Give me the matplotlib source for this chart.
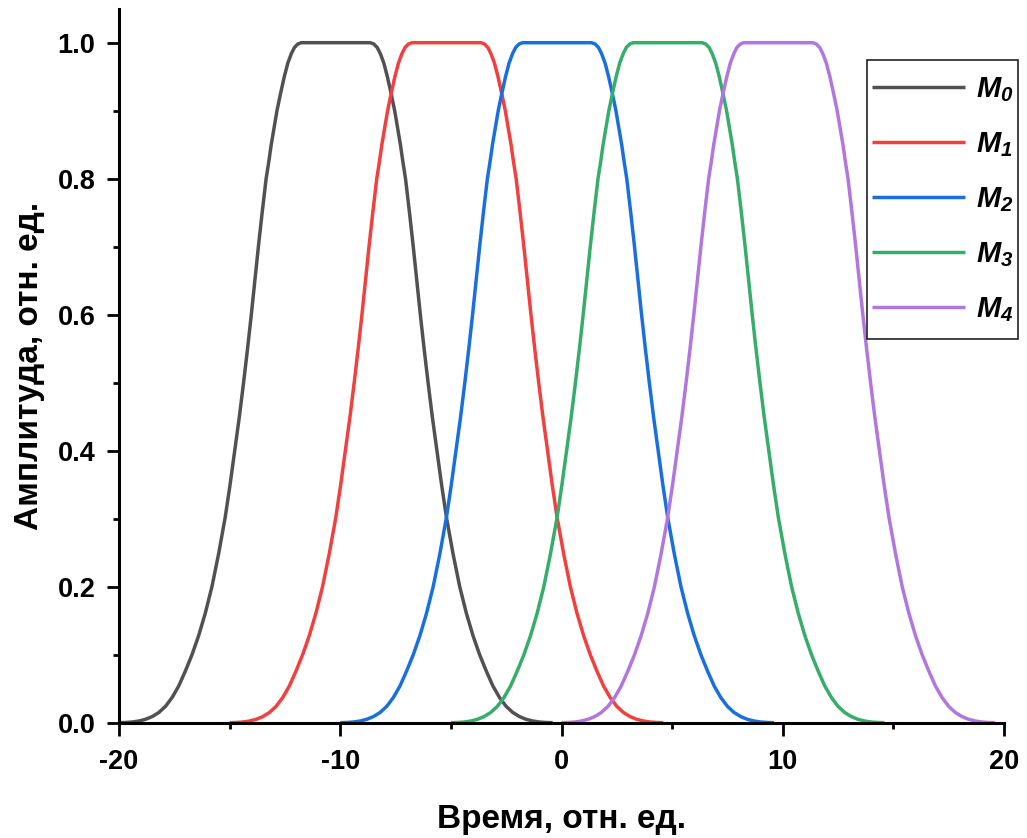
import matplotlib
matplotlib.use("Agg")
import matplotlib.pyplot as plt
from matplotlib.ticker import MultipleLocator
from matplotlib.patches import Rectangle
import numpy as np

# ---- data ----
series_names = ["M0", "M1", "M2", "M3", "M4"]
legend_labels = [r"$M_0$", r"$M_1$", r"$M_2$", r"$M_3$", r"$M_4$"]
pulse_centers = [-10.2, -5.2, -0.2, 4.8, 9.8]
# pulse profile (same shape for every pulse): time offset from the pulse centre and amplitude
pulse_offset = [-9.8, -9.5, -9.2, -8.9, -8.6, -8.3, -8.0, -7.7, -7.4, -7.1,
                -6.8, -6.5, -6.2, -5.9, -5.6, -5.3, -5.0, -4.78, -4.57, -4.36,
                -4.17, -3.99, -3.82, -3.66, -3.50, -3.33, -3.15, -3.03, -2.92,
                -2.79, -2.66, -2.50, -2.33, -2.17, -2.01, -1.87, -1.72, -1.56,
                1.56, 1.72, 1.87, 2.01, 2.17, 2.33, 2.50, 2.66, 2.79, 2.92,
                3.03, 3.15, 3.33, 3.50, 3.66, 3.82, 3.99, 4.17, 4.36, 4.57,
                4.78, 5.0, 5.3, 5.6, 5.9, 6.2, 6.5, 6.8, 7.1, 7.4, 7.7, 8.0,
                8.3, 8.6, 8.9, 9.2, 9.5, 9.8]
pulse_amp = [0.0, 0.0003, 0.001, 0.0025, 0.005, 0.009, 0.015, 0.024, 0.037, 0.054,
             0.076, 0.100, 0.128, 0.161, 0.200, 0.248, 0.302, 0.35, 0.40, 0.45,
             0.50, 0.55, 0.60, 0.65, 0.70, 0.75, 0.80, 0.825, 0.85,
             0.875, 0.90, 0.925, 0.95, 0.970, 0.984, 0.993, 0.998, 1.0,
             1.0, 0.998, 0.993, 0.984, 0.970, 0.95, 0.925, 0.90, 0.875, 0.85,
             0.825, 0.80, 0.75, 0.70, 0.65, 0.60, 0.55, 0.50, 0.45, 0.40,
             0.35, 0.302, 0.248, 0.200, 0.161, 0.128, 0.100, 0.076, 0.054, 0.037,
             0.024, 0.015, 0.009, 0.005, 0.0025, 0.001, 0.0003, 0.0]
colors = ["#515151", "#F14040", "#1A6FDF", "#37AD6B", "#B177DE"]
x_ticks = [-20, -10, 0, 10, 20]
y_ticks = [0.0, 0.2, 0.4, 0.6, 0.8, 1.0]
x_label = "Время, отн. ед."
y_label = "Амплитуда, отн. ед."

plt.rcParams["font.family"] = ["Liberation Sans", "DejaVu Sans"]
plt.rcParams["axes.unicode_minus"] = False
plt.rcParams["mathtext.fontset"] = "custom"
plt.rcParams["mathtext.it"] = "Liberation Sans:bold:italic"
plt.rcParams["mathtext.rm"] = "Liberation Sans:bold:italic"
plt.rcParams["mathtext.bf"] = "Liberation Sans:bold:italic"

W, H = 1027, 838
fig = plt.figure(figsize=(W / 100, H / 100), dpi=100)
ax = fig.add_axes([119 / W, 115.3 / H, 885 / W, 714 / H])

offs = np.array(pulse_offset)
for c, lab, col in zip(pulse_centers, legend_labels, colors):
    ax.plot(c + offs, pulse_amp, color=col, lw=2.5, label=lab,
            solid_joinstyle="round", solid_capstyle="butt")

ax.set_xlim(-20, 20)
ax.set_ylim(0, 1.05)
ax.set_xticks(x_ticks)
ax.set_xticklabels([str(v) for v in x_ticks])
ax.set_yticks(y_ticks)
ax.set_yticklabels([f"{v:.1f}" for v in y_ticks])
ax.xaxis.set_minor_locator(MultipleLocator(5))
ax.yaxis.set_minor_locator(MultipleLocator(0.1))

for s in ["top", "right"]:
    ax.spines[s].set_visible(False)
for s in ["left", "bottom"]:
    ax.spines[s].set_linewidth(2.2)

ax.tick_params(which="major", direction="out", length=9, width=2.0,
               labelsize=19.5)
ax.tick_params(axis="y", which="major", pad=8)
ax.tick_params(axis="x", which="major", pad=10)
ax.tick_params(which="minor", direction="out", length=4.5, width=2.0)
for t in ax.get_xticklabels() + ax.get_yticklabels():
    t.set_fontweight("bold")

ax.set_xlabel(x_label, fontsize=24, fontweight="bold", labelpad=21)
ax.set_ylabel(y_label, fontsize=24, fontweight="bold", labelpad=9)

leg = ax.legend(loc="upper right", bbox_to_anchor=(1013 / W, 1 - 75 / H),
                bbox_transform=fig.transFigure, fontsize=21, frameon=False,
                handlelength=3.2, handletextpad=0.35, labelspacing=0.9,
                borderpad=0, borderaxespad=0)

# frame drawn around the legend contents with Origin-like asymmetric padding
fig.canvas.draw()
bb = leg.get_window_extent(fig.canvas.get_renderer())
pad_x, pad_y = 5, 15
rect = Rectangle(((bb.x0 - pad_x) / W, (bb.y0 - pad_y) / H),
                 (bb.width + 2 * pad_x) / W, (bb.height + 2 * pad_y) / H,
                 transform=fig.transFigure, fill=True, facecolor="white",
                 edgecolor="#222222", lw=1.2, zorder=4)
fig.add_artist(rect)
leg.set_zorder(5)
fig.add_artist(leg)

fig.savefig("out.png", dpi=100)
